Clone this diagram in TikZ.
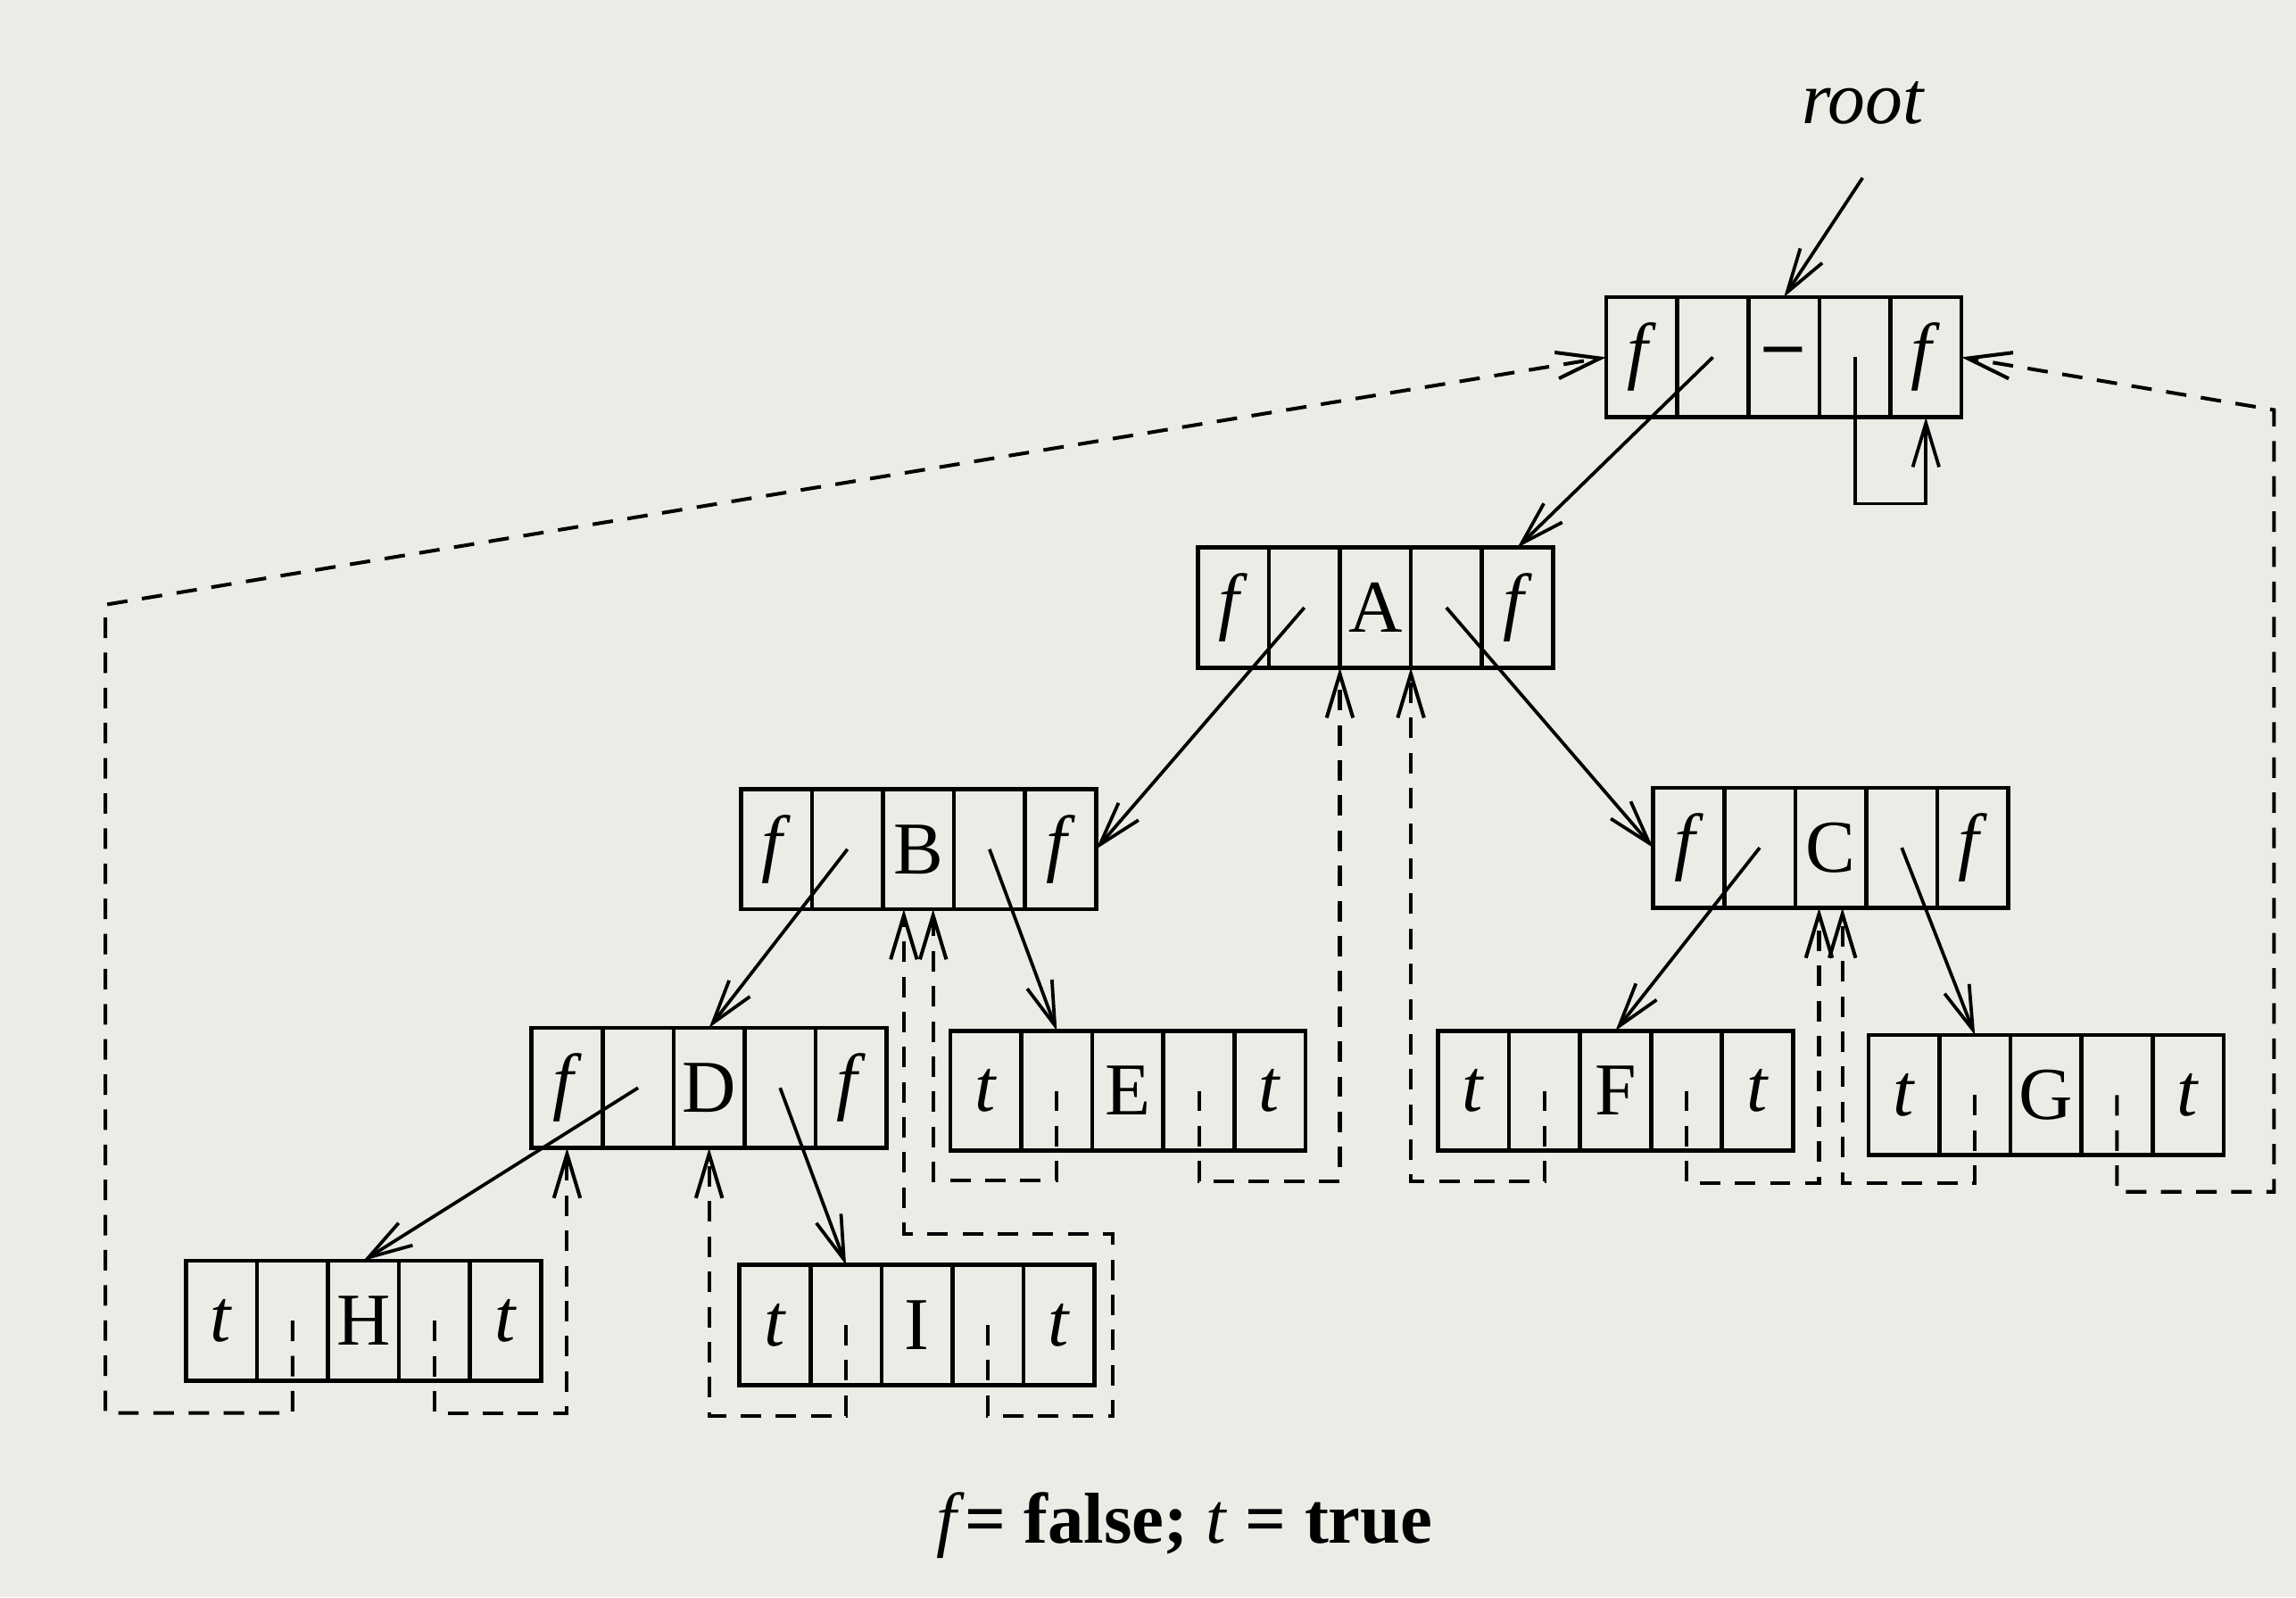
\documentclass[tikz,border=0pt]{standalone}
\usepackage{fontspec}
\setmainfont{Liberation Serif}
\usetikzlibrary{positioning,arrows.meta}
\definecolor{paper}{RGB}{236,236,231}
\tikzset{
  cell/.style={draw, line width=0.8pt, minimum width=4.85mm, minimum height=8.2mm,
    inner sep=0pt, outer sep=0pt, font=\fontsize{14.5}{16}\selectfont},
  thread/.style={line width=0.7pt, dash pattern=on 1.4mm off 1.0mm},
}
% one threaded node: name, top left corner, left tag, data, right tag
\newcommand{\tbox}[5]{%
  \node[cell,anchor=north west] (#1-1) at (#2) {\textit{#3}};
  \node[cell,right=0pt of #1-1] (#1-2) {};
  \node[cell,right=0pt of #1-2] (#1-3) {#4};
  \node[cell,right=0pt of #1-3] (#1-4) {};
  \node[cell,right=0pt of #1-4] (#1-5) {\textit{#5}};
}
\begin{document}
\begin{tikzpicture}[line width=0.65pt, >={Straight Barb[length=3mm,width=1.8mm]}]
\fill[paper] (0,0) rectangle (15.68,-10.91);
\useasboundingbox (0,0) rectangle (15.68,-10.91);
\node[font=\fontsize{14.5}{16}\selectfont\itshape] (rootlbl) at (12.72,-0.70) {root};
\tbox{R}{10.97,-2.03}{f}{\textbf{\textendash}}{f}
\tbox{A}{8.18,-3.74}{f}{A}{f}
\tbox{B}{5.06,-5.39}{f}{B}{f}
\tbox{C}{11.29,-5.38}{f}{C}{f}
\tbox{D}{3.63,-7.02}{f}{D}{f}
\tbox{E}{6.49,-7.04}{t}{E}{t}
\tbox{F}{9.82,-7.04}{t}{F}{t}
\tbox{G}{12.76,-7.07}{t}{G}{t}
\tbox{H}{1.27,-8.61}{t}{H}{t}
\tbox{I}{5.05,-8.64}{t}{I}{t}
% child pointers
\draw[->] ([yshift=-2.4mm]rootlbl.south) -- (R-3.north);
\draw[->] (R-2.center) -- (A-5.north);
\draw[->] (R-4.center) -- ++(0,-1.0) -| (R-5.south);
\draw[->] (A-2.center) -- (B-5.east);
\draw[->] (A-4.center) -- (C-1.west);
\draw[->] (B-2.center) -- (D-3.north);
\draw[->] (B-4.center) -- (E-2.north);
\draw[->] (C-2.center) -- (F-3.north);
\draw[->] (C-4.center) -- (G-2.north);
\draw[->] (D-2.center) -- (H-3.north);
\draw[->] (D-4.center) -- (I-2.north);
% threads
\draw[thread,->] (H-2.center) -- ++(0,-0.63) -| (0.72,-4.13) -- (R-1.west);
\draw[thread,->] (H-4.center) -- ++(0,-0.63) -| (D-1.south);
\draw[thread,->] (I-2.center) -- ++(0,-0.62) -| (D-3.south);
\draw[thread,->] (I-4.center) -- ++(0,-0.62) -| (7.60,-8.43) -| ([xshift=-1mm]B-3.south);
\draw[thread,->] (E-2.center) -- ++(0,-0.61) -| ([xshift=1mm]B-3.south);
\draw[thread,->] (E-4.center) -- ++(0,-0.62) -| (A-3.south west);
\draw[thread,->] (F-2.center) -- ++(0,-0.62) -| (A-3.south east);
\draw[thread,->] (F-4.center) -- ++(0,-0.63) -| ([xshift=-0.8mm]C-3.south);
\draw[thread,->] (G-2.center) -- ++(0,-0.60) -| ([xshift=0.8mm]C-3.south);
\draw[thread,->] (G-4.center) -- ++(0,-0.66) -| (15.53,-2.80) -- (R-5.east);
\node[font=\fontsize{14}{16}\selectfont] (key) at (8.09,-10.42)
  {\textit{f}\textbf{= false;} \textit{t} \textbf{= true}};
\end{tikzpicture}
\end{document}
